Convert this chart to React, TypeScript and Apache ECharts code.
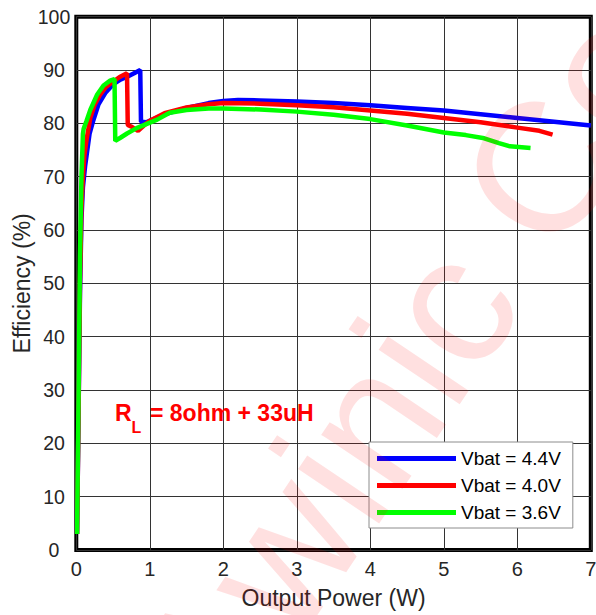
import React, { useEffect, useRef } from "react";
import * as echarts from "echarts";

// ---- Data (Output Power W, Efficiency %) ----
const seriesNames = ["Vbat = 4.4V", "Vbat = 4.0V", "Vbat = 3.6V"];
const seriesColors = ["#0000ff", "#ff0000", "#00ff00"];

const vbat44: [number, number][] = [
  [0.01, 3], [0.03, 25], [0.05, 48], [0.07, 62], [0.09, 68], [0.12, 72], [0.14, 74],
  [0.18, 78], [0.23, 80.5], [0.3, 83.5], [0.4, 85.8], [0.5, 87.3], [0.6, 88.2],
  [0.7, 88.8], [0.8, 89.5], [0.87, 90], [0.88, 80.3], [0.95, 80.2], [1.0, 80.5],
  [1.2, 81.7], [1.5, 82.9], [1.8, 83.8], [2.0, 84.2], [2.2, 84.4], [2.5, 84.3],
  [3.0, 84.1], [3.5, 83.8], [4.0, 83.4], [4.5, 82.9], [5.0, 82.4], [5.5, 81.7],
  [6.0, 81.0], [6.5, 80.3], [7.0, 79.6],
];

const vbat40: [number, number][] = [
  [0.01, 3], [0.03, 25], [0.05, 50], [0.07, 64], [0.09, 70], [0.11, 74], [0.14, 77],
  [0.19, 81], [0.25, 83.5], [0.32, 85.3], [0.4, 86.8], [0.5, 87.8], [0.59, 88.7],
  [0.69, 89.4], [0.7, 79.7], [0.76, 79.3], [0.84, 78.6], [0.92, 79.6], [1.0, 80.5],
  [1.2, 81.9], [1.5, 83.0], [1.8, 83.6], [2.0, 83.8], [2.5, 83.7], [3.0, 83.4],
  [3.5, 83.0], [4.0, 82.4], [4.5, 81.8], [5.0, 81.0], [5.5, 80.2], [6.0, 79.2],
  [6.3, 78.6], [6.48, 77.9],
];

const vbat36: [number, number][] = [
  [0.01, 3], [0.03, 28], [0.05, 55], [0.07, 70], [0.09, 78], [0.1, 79], [0.14, 80.5],
  [0.19, 82.5], [0.28, 85.3], [0.37, 87.1], [0.46, 88.0], [0.52, 88.3], [0.53, 76.7],
  [0.6, 77.3], [0.69, 78.1], [0.82, 79.1], [0.96, 79.9], [1.1, 80.7], [1.27, 82.0],
  [1.5, 82.5], [1.8, 82.8], [2.0, 82.8], [2.5, 82.6], [3.0, 82.2], [3.5, 81.6],
  [4.0, 80.8], [4.5, 79.6], [5.0, 78.3], [5.3, 77.8], [5.55, 77.2], [5.75, 76.3],
  [5.9, 75.7], [6.18, 75.4],
];

const allSeries = [vbat44, vbat40, vbat36];

const xAxisName = "Output Power (W)";
const yAxisName = "Efficiency (%)";
const xMin = 0, xMax = 7, xStep = 1;
const yMin = 0, yMax = 100, yStep = 10;

const FONT = "Arial, 'Liberation Sans', sans-serif";

export default function App() {
  const ref = useRef<HTMLDivElement>(null);

  useEffect(() => {
    if (!ref.current) return;
    const chart = echarts.init(ref.current, undefined, { renderer: "svg" });

    const txt = (text: string, x: number, y: number, size: number) => ({
      type: "text",
      x,
      y,
      z: 50,
      style: {
        text,
        fontSize: size,
        fontWeight: "bold",
        fontFamily: FONT,
        fill: "#ff0000",
        align: "left",
        verticalAlign: "middle",
        textAlign: "left",
        textVerticalAlign: "middle",
      },
    });

    const option: any = {
      animation: false,
      backgroundColor: "#ffffff",
      grid: {
        left: 76.3,
        right: 5.2,
        top: 16.7,
        bottom: 65,
        show: true,
        borderColor: "#000",
        borderWidth: 4,
        backgroundColor: "transparent",
        containLabel: false,
        outerBoundsMode: "none",
      },
      xAxis: {
        type: "value",
        min: xMin,
        max: xMax,
        interval: xStep,
        name: xAxisName,
        nameLocation: "middle",
        nameGap: 36.5,
        nameMoveOverlap: false,
        nameTextStyle: { fontSize: 23, color: "#262626", fontFamily: FONT },
        axisLine: { show: false },
        axisTick: { show: false },
        axisLabel: { fontSize: 20, color: "#262626", margin: 9, fontFamily: FONT },
        splitLine: { show: true, lineStyle: { color: "#333", width: 1 } },
      },
      yAxis: {
        type: "value",
        min: yMin,
        max: yMax,
        interval: yStep,
        name: yAxisName,
        nameLocation: "middle",
        nameGap: 42.8,
        nameMoveOverlap: false,
        nameTextStyle: { fontSize: 23, color: "#262626", fontFamily: FONT },
        axisLine: { show: false },
        axisTick: { show: false },
        axisLabel: {
          fontSize: 19.5,
          color: "#262626",
          margin: 22.3,
          align: "center",
          fontFamily: FONT,
        },
        splitLine: { show: true, lineStyle: { color: "#333", width: 1 } },
      },
      legend: {
        orient: "vertical",
        left: 369,
        top: 442,
        padding: [7, 12, 6, 8],
        itemGap: 8,
        itemWidth: 79,
        itemHeight: 5,
        icon: "rect",
        backgroundColor: "#fff",
        borderColor: "#8c8c8c",
        borderWidth: 1,
        textStyle: { fontSize: 19, color: "#000", lineHeight: 19, fontFamily: FONT },
        data: seriesNames,
      },
      series: allSeries.map((d, i) => ({
        name: seriesNames[i],
        type: "line",
        data: d,
        symbol: "none",
        showSymbol: false,
        color: seriesColors[i],
        lineStyle: { color: seriesColors[i], width: 4.5 },
        z: 3 + i,
      })),
      graphic: [
        txt("R", 115, 412.7, 23),
        txt("L", 131.5, 427.5, 16),
        txt("= 8ohm + 33uH", 150, 412.7, 23),
        {
          type: "text",
          x: 177.4,
          y: 708.3,
          rotation: (56 * Math.PI) / 180,
          z: 100,
          silent: true,
          style: {
            text: "Awinic Confidential",
            fontSize: 185,
            fontWeight: "normal",
            fontFamily: FONT,
            fill: "rgba(255,0,0,0.12)",
            align: "left",
            verticalAlign: "middle",
            textAlign: "left",
            textVerticalAlign: "middle",
          },
        },
      ],
    };

    chart.setOption(option);
    return () => chart.dispose();
  }, []);

  return (
    <div
      ref={ref}
      style={{ position: "fixed", left: 0, top: 0, width: 596, height: 615 }}
    />
  );
}
